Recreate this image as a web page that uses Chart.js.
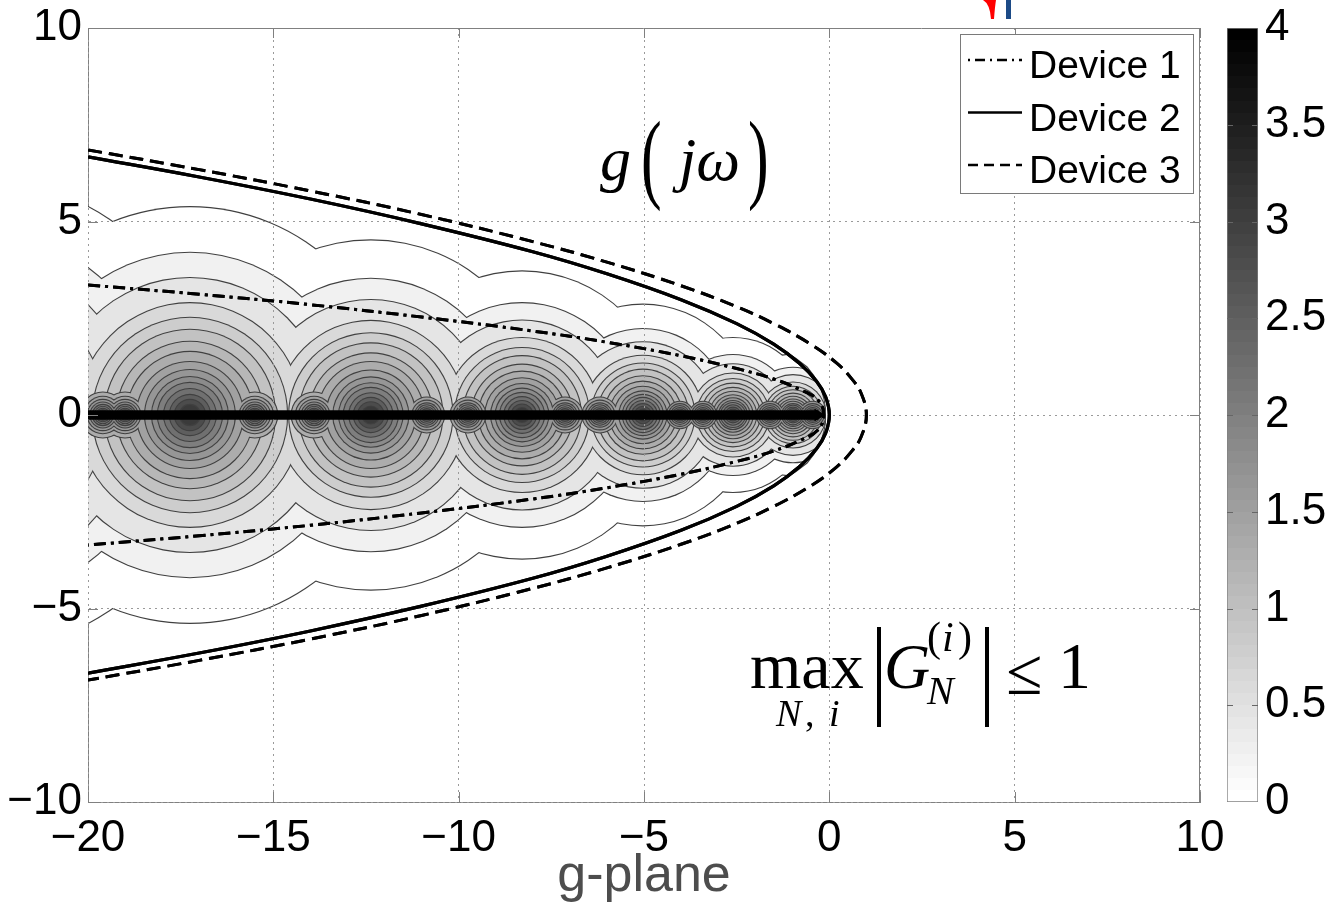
<!DOCTYPE html>
<html>
<head>
<meta charset="utf-8">
<script src="https://cdn.jsdelivr.net/npm/chart.js@4.4.0/dist/chart.umd.min.js"></script>
<style>
  body { margin: 0; background: #fff; }
  #plot { position: absolute; left: 0; top: 0; }
  #cbar { position: absolute; left: 1200px; top: 0; }
</style>
</head>
<body>
<canvas id="plot" width="1327" height="908"></canvas>
<canvas id="cbar" width="127" height="908"></canvas>
<script>
const xTicks = [-20, -15, -10, -5, 0, 5, 10];
const yTicks = [-10, -5, 0, 5, 10];
const barTicks = [0, 0.5, 1, 1.5, 2, 2.5, 3, 3.5, 4];

// g(jw) of the three devices, upper half (the lower half is its mirror)
const dev1X = [-20, -17, -14, -11, -8, -6, -4, -2.5, -1.5, -0.8, -0.3, -0.15];
const dev1Y = [3.36, 3.12, 2.85, 2.53, 2.17, 1.88, 1.53, 1.20, 0.93, 0.66, 0.38, 0];
const dev2X = [-20, -17, -14, -11, -8, -6, -4, -2.5, -1.5, -0.8, -0.35, -0.1, 0];
const dev2Y = [6.67, 6.15, 5.58, 4.94, 4.22, 3.65, 2.98, 2.36, 1.83, 1.33, 0.88, 0.47, 0];
const dev3X = [-20, -17, -14, -11, -8, -6, -4, -2.5, -1.5, -0.5, 0.2, 0.6, 0.85, 1];
const dev3Y = [6.85, 6.34, 5.79, 5.18, 4.48, 3.95, 3.34, 2.80, 2.36, 1.83, 1.34, 0.94, 0.58, 0];

// contour rings: radius (y units) of each level around each pole, outermost level first
const poleX = [-22.95, -17.25, -12.37, -8.29, -5.03, -2.6, -0.98];
const rings0 = [6.07, 4.73, 4.00, 3.27, 2.84, 2.49, 2.14, 1.84, 1.55, 1.31, 1.11, 0.94, 0.76, 0.59, 0.44, 0.29];
const rings1 = [5.37, 4.19, 3.54, 2.89, 2.51, 2.20, 1.89, 1.63, 1.37, 1.16, 0.98, 0.83, 0.67, 0.52, 0.39, 0.26];
const rings2 = [4.51, 3.52, 2.97, 2.43, 2.11, 1.85, 1.59, 1.37, 1.15, 0.97, 0.82, 0.70, 0.56, 0.44, 0.33, 0.22];
const rings3 = [3.71, 2.89, 2.44, 1.99, 1.73, 1.52, 1.30, 1.12, 0.95, 0.80, 0.68, 0.57, 0.46, 0.36, 0.27, 0.18];
const rings4 = [2.85, 2.22, 1.88, 1.53, 1.33, 1.17, 1.00, 0.86, 0.73, 0.61, 0.52, 0.44, 0.36, 0.28, 0.21, 0.14];
const rings5 = [1.99, 1.55, 1.31, 1.07, 0.93, 0.81, 0.70, 0.60, 0.51, 0.43, 0.36, 0.31, 0.25, 0.19, 0.14, 0.10];
const rings6 = [1.56, 1.22, 1.03, 0.84, 0.73, 0.64, 0.55, 0.47, 0.40, 0.34, 0.28, 0.24, 0.19, 0.15, 0.11, 0.08];
const poleRings = [rings0, rings1, rings2, rings3, rings4, rings5, rings6];

// small poles between the big ones, they only reach the inner levels
const minorX = [-19.6, -19.0, -15.5, -13.9, -10.86, -9.75, -7.13, -6.19, -4.03, -3.41, -1.6, -0.45];
const minorRingsL = [0, 0, 0, 0, 0, 0, 0, 0.58, 0.47, 0.39, 0.32, 0.26, 0.21, 0.16, 0.12, 0.09];
const minorRingsM = [0, 0, 0, 0, 0, 0, 0, 0, 0.45, 0.37, 0.30, 0.25, 0.20, 0.15, 0.11, 0.08];
const minorRingsR = [0, 0, 0, 0, 0, 0, 0, 0, 0, 0.34, 0.28, 0.23, 0.18, 0.14, 0.10, 0.07];
const minorRings = [minorRingsL, minorRingsL, minorRingsL, minorRingsL,
                    minorRingsM, minorRingsM, minorRingsM, minorRingsM,
                    minorRingsR, minorRingsR, minorRingsR, minorRingsR];

// right edge of the contour region near the vertex (upper half)
const edgeX = [-1.25, -0.9, -0.6, -0.42, -0.3, -0.2, -0.14, -0.11, -0.1];
const edgeY = [1.68, 1.46, 1.24, 1.02, 0.82, 0.6, 0.4, 0.2, 0];

const levelGray = ['#ffffff', '#f1f1f1', '#e5e5e5', '#d9d9d9', '#cdcdcd', '#c2c2c2', '#b7b7b7', '#acacac',
                   '#a1a1a1', '#969696', '#8b8b8b', '#7e7e7e', '#707070', '#5e5e5e', '#4c4c4c', '#3a3a3a'];
const SANS = '"Liberation Sans", Arial, sans-serif';
const SERIF = '"Liberation Serif", "DejaVu Serif", serif';

function branch(xs, ys) {
  const up = xs.map((x, i) => ({x: x, y: ys[i]}));
  const down = xs.slice(0, -1).map((x, i) => ({x: x, y: -ys[i]})).reverse();
  return up.concat(down);
}

function levelPoints(k) {
  const pts = [];
  poleX.forEach((x, i) => { if (poleRings[i][k] > 0) pts.push({x: x, y: 0, ru: poleRings[i][k]}); });
  minorX.forEach((x, i) => { if (minorRings[i][k] > 0) pts.push({x: x, y: 0, ru: minorRings[i][k]}); });
  return pts;
}

const datasets = [];
levelGray.forEach((gray, k) => {
  const pts = levelPoints(k);
  // dark disc slightly larger than the fill gives the contour line
  datasets.push({type: 'bubble', rings: pts, pad: 1.1, data: pts.map(p => ({x: p.x, y: p.y, r: 0})),
    backgroundColor: '#404040', borderWidth: 0, order: 1000 - 2 * k, clip: 0});
  datasets.push({type: 'bubble', rings: pts, pad: 0, data: pts.map(p => ({x: p.x, y: p.y, r: 0})),
    backgroundColor: gray, borderWidth: 0, order: 999 - 2 * k, clip: 0});
});

const edge = branch(edgeX, edgeY);
datasets.push({type: 'line', data: [{x: -1.25, y: 3.2}].concat(edge, [{x: -1.25, y: -3.2}, {x: 3, y: -3.2}, {x: 3, y: 3.2}]),
  fill: 'shape', backgroundColor: '#fff', borderWidth: 0, pointRadius: 0, tension: 0, order: 10, clip: 0});
datasets.push({type: 'line', data: edge, borderColor: '#404040', borderWidth: 1.1, pointRadius: 0, tension: 0, order: 9, clip: 0});

datasets.push({type: 'line', onTop: true, data: [{x: -20, y: 0}, {x: -0.3, y: 0}], borderColor: '#000', borderWidth: 9,
  pointRadius: [0, 7], pointStyle: 'triangle', rotation: 90, pointBackgroundColor: '#000', pointBorderWidth: 0,
  order: 2, clip: 0});

datasets.push({type: 'line', onTop: true, label: 'Device 1', legend: true, data: branch(dev1X, dev1Y), borderColor: '#000',
  borderWidth: 3, borderDash: [12, 5, 3, 5], legendDash: [2, 5, 10, 5], pointRadius: 0, tension: 0.4, order: 0, clip: 0});
datasets.push({type: 'line', onTop: true, label: 'Device 2', legend: true, data: branch(dev2X, dev2Y), borderColor: '#000',
  borderWidth: 3.2, borderDash: [], legendDash: [], pointRadius: 0, tension: 0.4, order: 0, clip: 0});
datasets.push({type: 'line', onTop: true, label: 'Device 3', legend: true, data: branch(dev3X, dev3Y), borderColor: '#000',
  borderWidth: 3, borderDash: [14, 7], legendDash: [10, 6], pointRadius: 0, tension: 0.4, order: 0, clip: 0});

const minus = v => String(v).replace('-', '\u2212');

// the grid sits above the contour fills; draw the real axis band and the curves again above the grid
const onTop = {
  id: 'onTop',
  afterDraw(chart) {
    const {ctx, chartArea: a} = chart;
    chart.data.datasets.forEach((d, i) => {
      if (!d.onTop) return;
      const meta = chart.getDatasetMeta(i);
      ctx.save();
      ctx.beginPath();
      ctx.rect(a.left, a.top, a.right - a.left, a.bottom - a.top);
      ctx.clip();
      meta.dataset.draw(ctx, a);
      meta.data.forEach(p => p.draw(ctx, a));
      ctx.restore();
    });
  }
};

const frameTicks = {
  id: 'frameTicks',
  afterDraw(chart) {
    const {ctx, chartArea: a, scales: {x, y}} = chart;
    ctx.save();
    ctx.strokeStyle = '#808080';
    ctx.lineWidth = 1;
    ctx.beginPath();
    ctx.moveTo(a.left, a.top + 0.5); ctx.lineTo(a.right - 0.5, a.top + 0.5); ctx.lineTo(a.right - 0.5, a.bottom);
    xTicks.forEach(v => {
      const p = Math.round(x.getPixelForValue(v)) + 0.5;
      ctx.moveTo(p, a.bottom); ctx.lineTo(p, a.bottom - 10);
      ctx.moveTo(p, a.top); ctx.lineTo(p, a.top + 10);
    });
    yTicks.forEach(v => {
      const p = Math.round(y.getPixelForValue(v)) + 0.5;
      ctx.moveTo(a.left, p); ctx.lineTo(a.left + 10, p);
      ctx.moveTo(a.right, p); ctx.lineTo(a.right - 10, p);
    });
    ctx.stroke();
    ctx.restore();
  }
};

function txt(ctx, s, x, y, size, italic) {
  ctx.font = (italic ? 'italic ' : '') + size + 'px ' + SERIF;
  ctx.fillText(s, x, y);
}
function tallParen(ctx, s, x, y, size, sx) {
  ctx.save();
  ctx.translate(x, y);
  ctx.scale(sx, 1);
  ctx.font = size + 'px ' + SERIF;
  ctx.fillText(s, 0, 0);
  ctx.restore();
}

const notes = {
  id: 'notes',
  afterDraw(chart) {
    const ctx = chart.ctx;
    ctx.save();
    ctx.fillStyle = '#000';
    ctx.textBaseline = 'alphabetic';
    // g(jw)
    txt(ctx, 'g', 600, 180, 62, true);
    tallParen(ctx, '(', 641, 190, 100, 0.62);
    txt(ctx, 'j\u03c9', 679, 180, 62, true);
    tallParen(ctx, ')', 748, 190, 100, 0.62);
    // max |G_N^(i)| <= 1
    txt(ctx, 'max', 750, 688, 66, false);
    txt(ctx, 'N', 776, 726, 38, true);
    txt(ctx, ',', 805, 726, 38, false);
    txt(ctx, 'i', 829, 726, 38, true);
    ctx.fillRect(877, 627, 4, 100);
    ctx.fillRect(985, 627, 4, 100);
    txt(ctx, 'G', 884, 688, 64, true);
    txt(ctx, '(', 927, 651, 42, false);
    txt(ctx, 'i', 942, 651, 42, true);
    txt(ctx, ')', 958, 651, 42, false);
    txt(ctx, 'N', 927, 704, 40, true);
    txt(ctx, '\u2264', 1006, 694, 66, false);
    txt(ctx, '1', 1058, 688, 66, false);
    // cropped marks at the top edge
    ctx.fillStyle = '#ff0000';
    ctx.beginPath();
    ctx.moveTo(983, 0); ctx.quadraticCurveTo(990, 4, 991, 19); ctx.lineTo(994, 19); ctx.quadraticCurveTo(995, 6, 996, 0);
    ctx.closePath(); ctx.fill();
    ctx.fillStyle = '#1c4a86';
    ctx.fillRect(1006, 0, 5, 19);
    ctx.restore();
  }
};

const legendBox = {
  id: 'legendBox',
  afterDraw(chart) {
    const ctx = chart.ctx;
    const items = chart.data.datasets.filter(d => d.legend);
    ctx.save();
    ctx.fillStyle = '#fff';
    ctx.fillRect(960, 34, 233, 159);
    ctx.strokeStyle = '#7a7a7a';
    ctx.lineWidth = 1;
    ctx.strokeRect(960.5, 34.5, 233, 159);
    items.forEach((d, i) => {
      const yy = 60 + i * 52.5;
      ctx.beginPath();
      ctx.setLineDash(d.legendDash);
      ctx.lineWidth = 2.6;
      ctx.strokeStyle = d.borderColor;
      ctx.moveTo(968, yy); ctx.lineTo(1022, yy);
      ctx.stroke();
      ctx.setLineDash([]);
      ctx.fillStyle = '#000';
      ctx.font = '39px ' + SANS;
      ctx.textBaseline = 'alphabetic';
      ctx.fillText(d.label, 1029, yy + 18);
    });
    ctx.restore();
  }
};

const plot = new Chart(document.getElementById('plot'), {
  type: 'bubble',
  data: {datasets: datasets},
  options: {
    responsive: false,
    animation: false,
    events: [],
    layout: {autoPadding: false, padding: {left: 0, top: 28, right: 127, bottom: 0}},
    plugins: {legend: {display: false}, tooltip: {enabled: false}},
    scales: {
      x: {
        type: 'linear', min: -20, max: 10,
        afterBuildTicks: s => { s.ticks = xTicks.map(v => ({value: v})); },
        afterFit: s => { s.height = 106; s.paddingLeft = 0; s.paddingRight = 0; },
        ticks: {callback: minus, color: '#000', font: {family: SANS, size: 44}, padding: 10, maxRotation: 0, autoSkip: false},
        grid: {color: '#9a9a9a', lineWidth: 1, drawTicks: false, z: 1},
        border: {color: '#808080', width: 1, dash: [2, 4]},
        title: {display: true, text: 'g-plane', color: '#4d4d4d', font: {family: SANS, size: 52}, padding: {top: 0, bottom: 0}}
      },
      y: {
        type: 'linear', min: -10, max: 10,
        afterBuildTicks: s => { s.ticks = yTicks.map(v => ({value: v})); },
        afterFit: s => { s.width = 88; s.paddingTop = 0; s.paddingBottom = 0; },
        ticks: {callback: minus, color: '#000', font: {family: SANS, size: 44}, padding: 6, autoSkip: false},
        grid: {color: '#9a9a9a', lineWidth: 1, drawTicks: false, z: 1},
        border: {color: '#808080', width: 1, dash: [2, 4]}
      }
    }
  },
  plugins: [onTop, frameTicks, notes, legendBox]
});

// ring radii are in axis units: turn them into pixels with the laid out y scale
const unit = plot.scales.y.getPixelForValue(0) - plot.scales.y.getPixelForValue(1);
plot.data.datasets.forEach(d => {
  if (d.rings) d.data = d.rings.map(p => ({x: p.x, y: p.y, r: p.ru * unit + d.pad}));
});
plot.update();

// colour bar
const barTickMarks = {
  id: 'barTickMarks',
  afterDraw(chart) {
    const {ctx, chartArea: a, scales: {y}} = chart;
    ctx.save();
    ctx.strokeStyle = '#666';
    ctx.lineWidth = 1;
    ctx.beginPath();
    barTicks.slice(1, -1).forEach(v => {
      const p = Math.round(y.getPixelForValue(v)) + 0.5;
      ctx.moveTo(a.left, p); ctx.lineTo(a.left + 6, p);
      ctx.moveTo(a.right, p); ctx.lineTo(a.right - 6, p);
    });
    ctx.stroke();
    ctx.restore();
  }
};

function grayRamp(c) {
  const {ctx, chartArea} = c.chart;
  if (!chartArea) return '#888';
  const g = ctx.createLinearGradient(0, chartArea.bottom, 0, chartArea.top);
  const steps = 64;
  for (let i = 0; i < steps; i++) {
    const v = Math.round(255 * (1 - i / (steps - 1)));
    const col = 'rgb(' + v + ',' + v + ',' + v + ')';
    g.addColorStop(i / steps, col);
    g.addColorStop((i + 1) / steps, col);
  }
  return g;
}

new Chart(document.getElementById('cbar'), {
  type: 'bar',
  data: {labels: [''], datasets: [{data: [[barTicks[0], barTicks[barTicks.length - 1]]], backgroundColor: grayRamp,
    borderColor: '#808080', borderWidth: 1, borderSkipped: false, barPercentage: 1, categoryPercentage: 1}]},
  options: {
    responsive: false,
    animation: false,
    events: [],
    layout: {padding: {left: 27, top: 28, right: 0, bottom: 106}},
    plugins: {legend: {display: false}, tooltip: {enabled: false}},
    scales: {
      x: {display: false},
      y: {
        position: 'right', min: 0, max: 4,
        afterBuildTicks: s => { s.ticks = barTicks.map(v => ({value: v})); },
        afterFit: s => { s.width = 69; s.paddingTop = 0; s.paddingBottom = 0; },
        ticks: {callback: v => String(v), color: '#000', font: {family: SANS, size: 44}, padding: 7, autoSkip: false},
        grid: {display: false, drawTicks: false},
        border: {display: false}
      }
    }
  },
  plugins: [barTickMarks]
});
</script>
</body>
</html>
